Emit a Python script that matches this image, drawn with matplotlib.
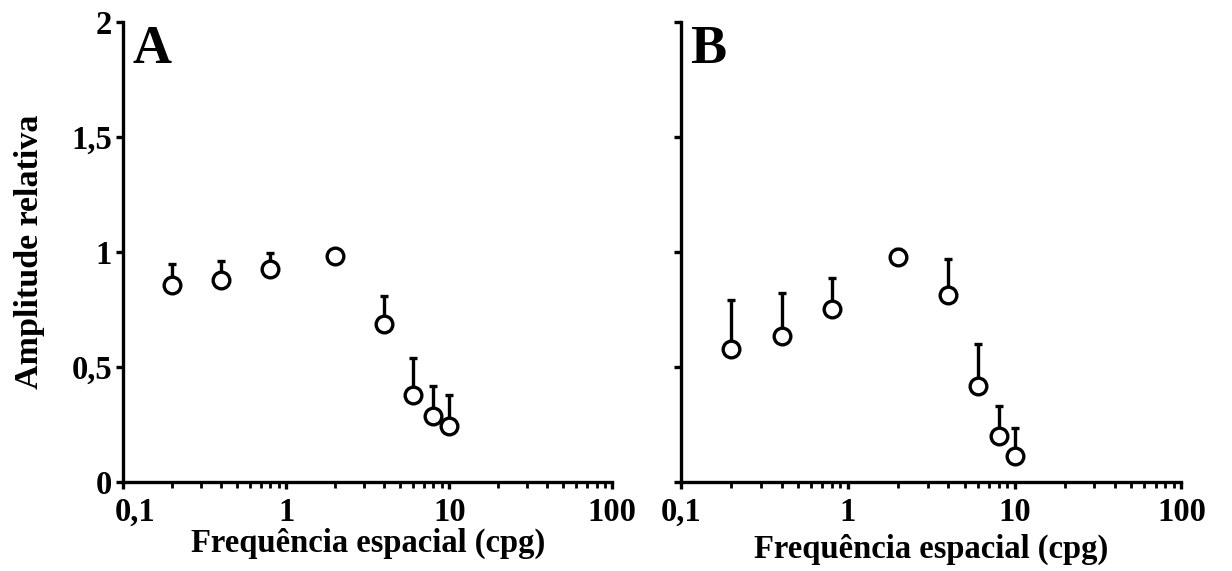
import matplotlib
matplotlib.use("Agg")
import matplotlib.pyplot as plt
from matplotlib.ticker import FixedLocator, FixedFormatter, LogLocator, NullFormatter
from matplotlib.transforms import ScaledTranslation

plt.rcParams["font.family"] = ["Liberation Serif", "DejaVu Serif"]
plt.rcParams["font.weight"] = "bold"

freq = [0.2, 0.4, 0.8, 2, 4, 6, 8, 10]

amp_a = [0.855, 0.877, 0.925, 0.985, 0.688, 0.379, 0.288, 0.242]
top_a = [0.949, 0.961, 0.996, 0.995, 0.810, 0.538, 0.416, 0.379]

amp_b = [0.577, 0.636, 0.751, 0.980, 0.814, 0.416, 0.198, 0.111]
top_b = [0.791, 0.822, 0.889, 1.012, 0.972, 0.598, 0.329, 0.234]

xticks = [0.1, 1, 10, 100]
xtick_labels = ["0,1", "1", "10", "100"]
yticks = [0, 0.5, 1, 1.5, 2]
ytick_labels = ["0", "0,5", "1", "1,5", "2"]

fig = plt.figure(figsize=(12.32, 5.71), dpi=100)
ax_a = fig.add_axes([0.100, 0.156, 0.397, 0.805])
ax_b = fig.add_axes([0.553, 0.156, 0.406, 0.805])


def draw_panel(ax, amp, top, letter, show_ylabels, xlabel_pad):
    up = [t - a for t, a in zip(top, amp)]
    down = [0] * len(amp)
    ax.errorbar(freq, amp, yerr=[down, up], fmt="none", ecolor="black",
                elinewidth=2.4, capsize=3, capthick=2.4, zorder=2)
    ax.plot(freq, amp, "o", ms=12, mfc="white", mec="black", mew=2.4,
            linestyle="none", zorder=3, clip_on=False)

    ax.set_xscale("log")
    ax.set_xlim(0.1, 100)
    ax.set_ylim(0, 2)

    ax.xaxis.set_major_locator(FixedLocator(xticks))
    ax.xaxis.set_major_formatter(FixedFormatter(xtick_labels))
    ax.xaxis.set_minor_locator(LogLocator(base=10, subs=range(2, 10)))
    ax.xaxis.set_minor_formatter(NullFormatter())
    ax.yaxis.set_major_locator(FixedLocator(yticks))
    if show_ylabels:
        ax.yaxis.set_major_formatter(FixedFormatter(ytick_labels))
    else:
        ax.set_yticklabels([])

    for side in ["top", "right"]:
        ax.spines[side].set_visible(False)
    for side in ["left", "bottom"]:
        ax.spines[side].set_linewidth(2.4)

    ax.tick_params(axis="both", which="major", direction="out", length=5,
                   width=2.4, labelsize=23.5, pad=3)
    ax.tick_params(axis="x", which="major", pad=6)
    ax.tick_params(axis="x", which="minor", direction="out", length=4,
                   width=2.0)

    if show_ylabels:
        # nudge "0,1" right so it clears the y "0" label
        first = ax.xaxis.get_major_ticks()[0].label1
        first.set_transform(first.get_transform()
                            + ScaledTranslation(0.12, 0, fig.dpi_scale_trans))

    ax.set_xlabel("Frequência espacial (cpg)", fontsize=23.5,
                  fontweight="bold", labelpad=xlabel_pad)
    ax.text(0.018, 0.995, letter, transform=ax.transAxes, fontsize=39,
            fontweight="bold", va="top", ha="left")


draw_panel(ax_a, amp_a, top_a, "A", True, 0)
draw_panel(ax_b, amp_b, top_b, "B", False, 4)
ax_a.set_ylabel("Amplitude relativa", fontsize=24.5, fontweight="bold",
                labelpad=19)

fig.savefig("out.png", dpi=100)
